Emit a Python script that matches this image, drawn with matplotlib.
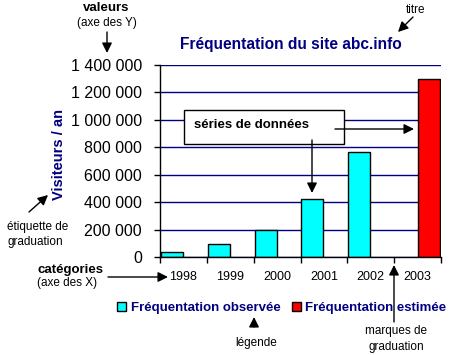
import matplotlib
matplotlib.use("Agg")
import matplotlib.pyplot as plt
import matplotlib.ticker as mtick
import numpy as np

plt.rcParams['font.family'] = ['Liberation Sans', 'DejaVu Sans']

# Data
years = ['1998', '1999', '2000', '2001', '2002', '2003']
observed = [35000, 95000, 195000, 422000, 762000, np.nan]
estimated = [np.nan, np.nan, np.nan, np.nan, np.nan, 1300000]
legend_labels = ['Fréquentation observée', 'Fréquentation estimée']
title = 'Fréquentation du site abc.info'
ylabel = 'Visiteurs / an'

navy = '#000080'
W, H = 463, 355

fig = plt.figure(figsize=(W / 100, H / 100), dpi=100)
ax = fig.add_axes([160 / W, 1 - 257 / H, 281 / W, 192 / H])

pos = np.arange(len(years))
bar_w = 0.47
ax.bar(pos + 0.02, observed, bar_w, align='edge', color='#00FFFF',
       edgecolor='black', linewidth=1, zorder=3, label=legend_labels[0])
ax.bar(pos + 0.5, estimated, bar_w, align='edge', color='#FF0000',
       edgecolor='black', linewidth=1, zorder=3, label=legend_labels[1])

ax.set_xlim(0, len(years))
ax.set_ylim(0, 1400000)
ax.set_yticks(np.arange(0, 1400001, 200000))
ax.yaxis.set_major_formatter(mtick.FuncFormatter(lambda v, p: f'{v:,.0f}'.replace(',', ' ')))
ax.set_xticks(np.arange(len(years) + 1))
ax.set_xticklabels([])
ax.set_xticks(pos + 0.5, minor=True)
ax.set_xticklabels(years, minor=True)
ax.tick_params(axis='x', which='minor', length=0, pad=10, labelsize=9)
ax.tick_params(axis='x', which='major', length=4, width=1, direction='out')
ax.tick_params(axis='y', length=4, width=1, pad=9, labelsize=11.5)

ax.grid(axis='y', color=navy, linewidth=1, zorder=1)
for s in ['top', 'right']:
    ax.spines[s].set_visible(False)
for s in ['left', 'bottom']:
    ax.spines[s].set_linewidth(1)
    ax.spines[s].set_zorder(4)

fig.text(291 / W, 1 - 45 / H, title, color=navy, fontsize=11.2, fontweight='bold',
         ha='center', va='center')
fig.text(59 / W, 1 - 155 / H, ylabel, color=navy, fontsize=10.5, fontweight='bold',
         rotation=90, ha='center', va='center')

leg = fig.legend(loc='center', bbox_to_anchor=(282 / W, 1 - 308 / H), ncol=2,
                 frameon=False, fontsize=9.5, handlelength=0.65, handleheight=0.65,
                 handletextpad=0.35, columnspacing=0.9, borderaxespad=0)
for t in leg.get_texts():
    t.set_color(navy)
    t.set_fontweight('bold')

# Overlay for the explanatory annotations (pixel coords, origin top-left)
ov = fig.add_axes([0, 0, 1, 1], zorder=10)
ov.set_xlim(0, W)
ov.set_ylim(H, 0)
ov.axis('off')

def arrow(x0, y0, x1, y1):
    ov.annotate('', xy=(x1, y1), xytext=(x0, y0),
                arrowprops=dict(arrowstyle='-|>', color='black', lw=1,
                                mutation_scale=15, shrinkA=0, shrinkB=0))

small = 8.5
ov.text(106, 8, 'valeurs', fontsize=9.5, fontweight='bold', ha='center', va='center')
ov.text(107, 23, '(axe des Y)', fontsize=small, ha='center', va='center')
arrow(107, 32, 107, 53)

ov.text(416, 10, 'titre', fontsize=small, ha='center', va='center')
arrow(413, 17, 398, 32)

ov.add_patch(plt.Rectangle((184, 110), 160, 34, facecolor='white',
                           edgecolor='black', linewidth=1))
ov.text(194, 125, 'séries de données', fontsize=9.5, fontweight='bold',
        ha='left', va='center')
arrow(312, 140, 312, 193)
arrow(335, 129, 414, 129)

ov.text(7, 227, 'étiquette de', fontsize=small, ha='left', va='center')
ov.text(7, 242, 'graduation', fontsize=small, ha='left', va='center')
arrow(29, 212, 48, 195)

ov.text(37, 270, 'catégories', fontsize=9.5, fontweight='bold', ha='left', va='center')
ov.text(37, 283, '(axe des X)', fontsize=small, ha='left', va='center')
arrow(108, 277, 168, 277)

ov.text(256, 343, 'légende', fontsize=small, ha='center', va='center')
arrow(254, 327, 254, 317)

ov.text(396, 331, 'marques de', fontsize=small, ha='center', va='center')
ov.text(396, 347, 'graduation', fontsize=small, ha='center', va='center')
arrow(394, 322, 394, 265)

fig.savefig('out.png', dpi=100, facecolor='white')
